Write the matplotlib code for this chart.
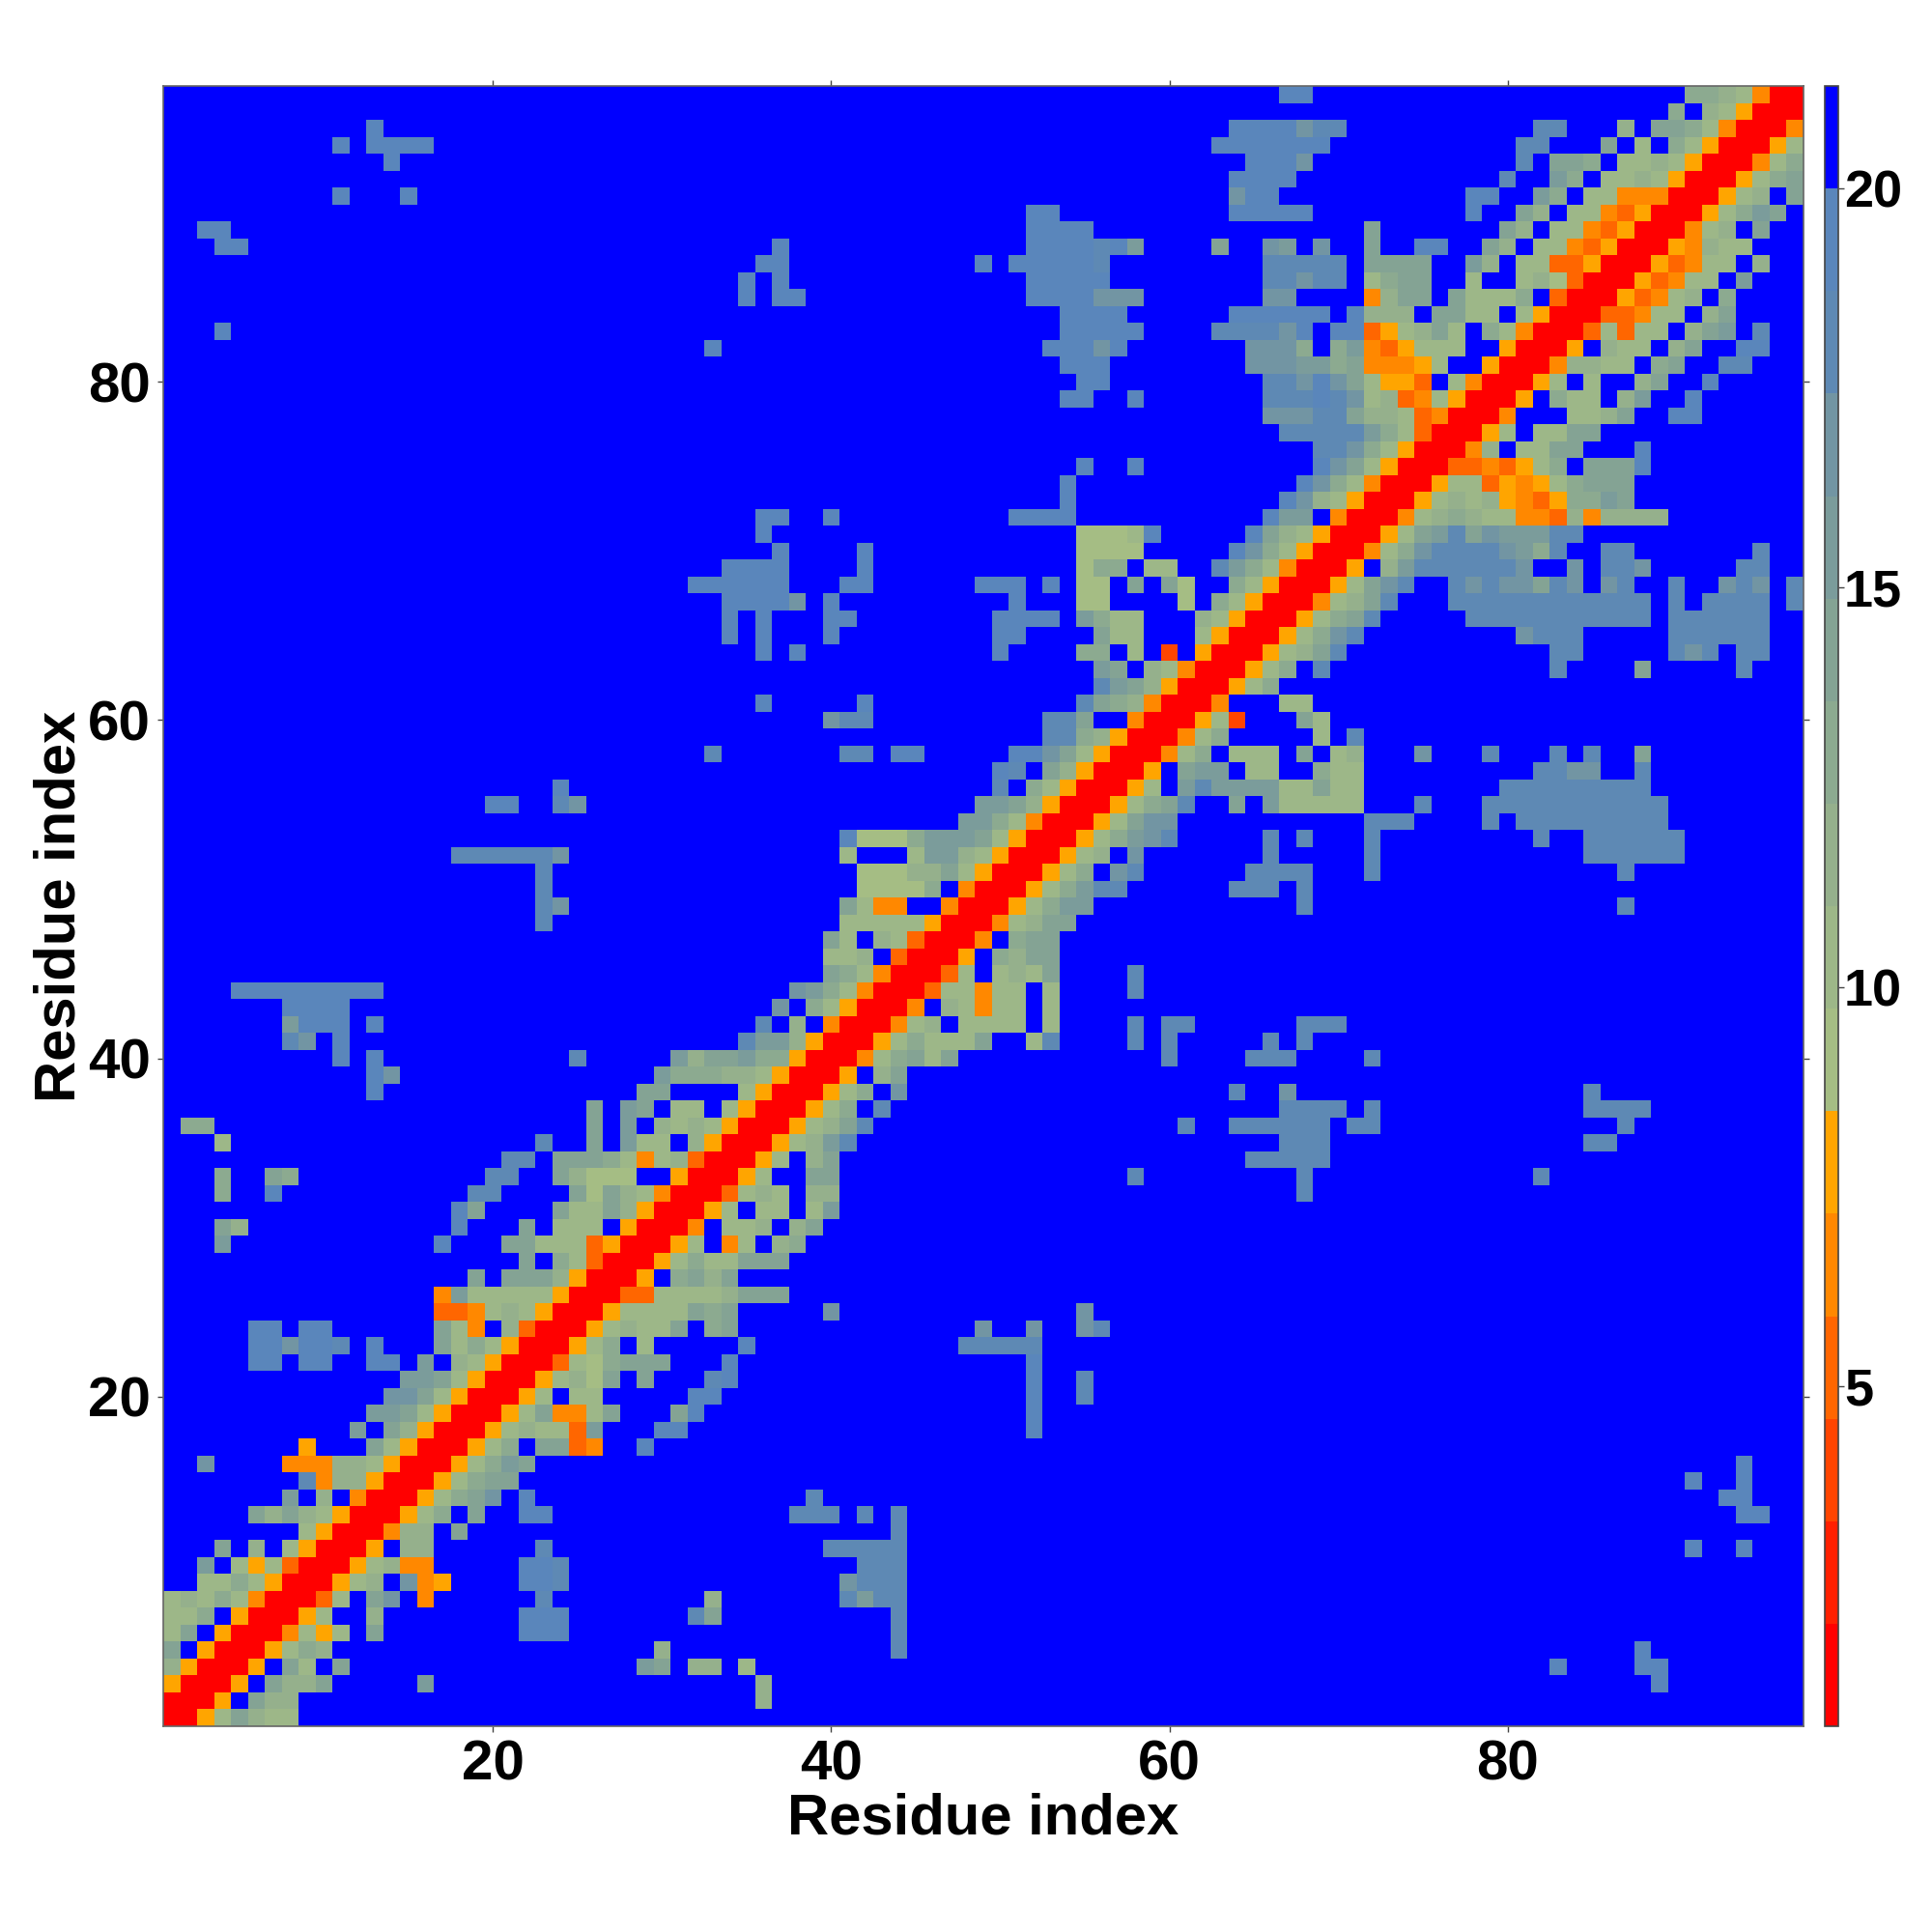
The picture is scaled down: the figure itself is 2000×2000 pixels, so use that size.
import numpy as np
import matplotlib
matplotlib.use("Agg")
import matplotlib.pyplot as plt
from matplotlib.colors import ListedColormap, BoundaryNorm

plt.rcParams['font.family'] = ['Liberation Sans', 'DejaVu Sans']
plt.rcParams['font.weight'] = 'bold'

n_res = 97
dist_min, dist_max = 0.75, 21.28
n_bins = 16

# one colour per distance bin, red = close, blue = far / no contact
bin_colors = ['#ff0000', '#ff2000', '#ff4500', '#ff6600', '#ff8800', '#ffa500',
              '#a5bd84', '#9db788', '#95b08c', '#8caa90', '#84a394', '#7b9c9b',
              '#7295a3', '#5e89b4', '#5a86bb', '#0000ff']
cbar_ticks = [5, 10, 15, 20]
axis_ticks = [20, 40, 60, 80]
axis_label = 'Residue index'

# distance bin, row by row from residue 97 down to residue 1
# "col:bins" = bins (hex digit) starting at residue col, all the rest is bin 15
map_rows = [
 "67:ee 91:9987400",
 "90:9 92:875000",
 "13:e 64:eeeecdd 82:dd 87:8 89:aa9740004",
 "11:e 13:eeee 63:eeeeeee 81:dd 86:a 88:7 90:97500057",
 "14:e 65:eeec 81:d 83:aa9 87:778 90:75000479",
 "64:eeee 80:d 83:b9 86:77875000579a",
 "11:e 15:e 64:cee 78:ee 82:b9 85:77444000578 97:a",
 "52:ee 64:eeeee 78:e 81:a8 84:77435000579ba",
 "3:ee 52:eeee 72:a 80:a8 83:77435000478 95:a",
 "4:ee 37:e 52:eeeedeb 63:a 66:cb 69:c 72:a 75:ee 79:a8 82:7743500054877",
 "36:ee 49:e 51:eeeeed 66:ddddd 72:aaaa 78:b8 81:7733500053477 95:8",
 "35:e 37:e 52:eeeee 66:ddcdd 72:79aa 78:7 81:786300053477 94:b",
 "35:e 37:ee 52:eeeeccc 66:cc 72:48aa 77:a7779 83:300053478 93:9",
 "54:eeee 64:eeeeee 71:e888 76:aa77 81:7500033477 92:8a",
 "4:e 54:eeeee 63:ddddce 70:ee3578a7 79:97400037377 91:8ab 95:d",
 "33:e 53:eeece 65:ccc9 70:9b435777 80:50005 86:877 90:8a 94:ee",
 "54:eee 65:cccbb9a44457 79:500048877 89:9a 93:dd",
 "55:ee 66:ddceca7553 77:7400057 85:7 88:8a 92:e",
 "54:ee 58:e 66:dddedc7834750005 83:977 87:8b 91:e",
 "66:cccdda887340004 84:778a 90:ee",
 "67:dddddb97300057 82:77aa",
 "69:ddc97500048 81:77aa 88:e",
 "55:e 58:e 69:eca750003343579 85:aaae",
 "54:e 68:ec974000577354579aaa",
 "54:e 67:ec87500057878543599ba",
 "36:ee 40:e 51:eeee 66:ebb 70:40004789877443848888",
 "36:e 55:6667e 65:ea87500057abdacbbbdd",
 "37:e 42:e 55:6666 64:ec975000479cddddcb9d 86:dd 95:d",
 "34:eeee 42:e 55:699 59:77 63:db9740005 73:8bddddddc 84:c 86:ddc 94:dd",
 "32:eeeeee 41:ee 49:eee 53:e 55:66 58:a 60:a6 64:97500057acd 77:dcdccadc 86:cd 90:d 93:cdc 97:d",
 "34:eeeec 40:e 51:e 55:66 61:6 63:975000478ad 77:dddddddddddd 90:d 92:dddd 97:d",
 "34:e 36:e 40:ee 50:eeee 55:b977 62:875000579ad 78:ddddddddddd 90:dddddd",
 "34:e 36:e 40:e 50:ee 56:a77 62:75000579cd 81:cddd 90:dddddd",
 "36:e 38:e 50:e 55:99 58:7 60:2 62:5000578ad 83:dd 90:dcd 94:dd",
 "56:ba 59:874000579 69:d 83:d 88:a 94:d",
 "56:dba85000579",
 "36:e 42:e 55:da9840004 67:77",
 "40:cdd 53:dda 58:4000572 68:a7",
 "53:dd985000479 69:7 71:d",
 "33:d 41:dd 44:ee 51:eeca75000479 64:777 68:a 70:78 75:c 79:d 83:d 85:d 88:a",
 "50:ed 53:a850005 61:abb 65:77 69:977 82:ddcc 88:d",
 "24:e 50:d 52:97500057 61:bdbbbb77a77 80:ddddddddd",
 "20:ee 24:dc 49:bba85000579ad 64:a 66:b77777 75:d 79:ddddddddddd",
 "48:bb97400057acc 72:ddd 79:d 81:ddddddddd",
 "41:e6669bbba75000579bcd 66:d 68:d 72:d 82:d 85:dddddd",
 "18:ddddddc 41:7 45:7bb875000578 58:c 66:d 72:d 85:dddddd",
 "23:d 42:66688a75000579 57:cd 65:dddd 72:d 87:d",
 "23:d 42:66669 48:4000579bdd 64:ddd 68:d",
 "23:dc 41:a744 47:4000579bb 68:d 87:d",
 "23:d 41:777775000478aa",
 "40:a7 43:8730004 51:9aa",
 "40:778 44:30005 50:98aa",
 "40:a97400037 50:787a 58:d",
 "5:eeeeeeeee 38:cb974000377477 53:7 58:d",
 "8:eeee 37:c 39:9750004 47:87477 53:7",
 "8:beee 13:e 36:d 38:8 40:4000478 48:7777 53:7 58:d 60:dd 68:ddd",
 "8:dc 11:e 35:dbb85000579777a 52:7d 58:d 60:d 66:d 68:d",
 "11:e 13:e 25:d 31:b8aab995000479a7a 60:d 65:ddd 72:d",
 "13:ec 30:b99988750005 43:8a",
 "13:e 29:aa 35:75000579 44:c 64:d 67:c 85:d",
 "26:a 28:ba 31:77 34:75000579 43:d 67:dddd 72:d 85:dddd",
 "2:99 26:a 28:b 30:87875000578ad 61:d 64:dddddd 71:dd 87:d",
 "4:7 23:d 26:a 28:b77 32:85000578bd 67:ddd 85:dd",
 "21:dd 24:aaa97478300057 39:8a 65:ddddd",
 "4:9 7:a9 20:dd 24:a8666 31:500057 39:aa 58:d 68:d 82:d",
 "4:9 7:e 19:dd 25:a6a8740003787 39:88 68:d",
 "18:ea 24:a77a8500057 36:77 39:7b",
 "4:a8 18:e 22:a 24:777 28:50004 34:778 38:8a",
 "4:b 17:e 21:aa7773500057 34:47 37:89",
 "22:a 24:97300057977aaa",
 "19:a 21:aaa850005 31:9a8a",
 "17:4b7777750003377778aaa",
 "17:334787500057777a9a 40:c 55:c",
 "6:ee 9:ee 17:a74 21:8300057877a 33:9a 49:c 52:c 55:cd",
 "6:eeceed 13:e 17:a7975000579 29:7 35:e 48:ddddd",
 "6:ee 9:ee 13:ee 16:b 18:8750003769aaa 34:e 52:e",
 "15:bba750005786a 29:a 33:de 52:e 55:d",
 "14:cca7500057 25:77 32:ee 52:e 55:d",
 "13:bba7500057a447a 31:ae 52:e",
 "12:b 14:a85000578773b 30:ee 52:e",
 "9:5 13:a75000579 23:aa34 29:e",
 "3:c 8:4448875000579ba 94:e",
 "9:d4885000579aa 91:e 94:e",
 "8:b 10:8 12:4000579ac 22:e 39:d 93:ee",
 "6:a8a875000579 19:a 22:ee 38:ddd 42:d 44:d 94:ee",
 "9:75000488 18:a 44:d",
 "4:a 6:8 8:750005 15:88 23:d 40:ddddd 91:e 94:e",
 "3:b 5:757300057844 22:eed 42:ddd",
 "3:77975000578 15:c45 22:eed 41:cddd",
 "1:78797400037 13:ac 16:4 23:d 33:8 41:dbdd",
 "1:779 5:500057 13:8 22:eee 32:da 44:d",
 "1:7a 4:50004757 13:a 22:eee 44:d",
 "1:a 3:50005798 30:8 44:d 88:e",
 "1:850005 8:a7 11:a 29:ba 32:88 35:7 83:e 88:ee",
 "1:50005 7:a88a 16:b 36:8 89:e",
 "1:0005 6:a88 36:8",
 "1:00 3:57a877",
]

# turn the bins into distances (bin centres)
edges = np.linspace(dist_min, dist_max, n_bins + 1)
centres = 0.5 * (edges[:-1] + edges[1:])
bins = np.full((n_res, n_res), n_bins - 1, dtype=int)
for r, row in enumerate(map_rows):
    for seg in row.split():
        col, vals = seg.split(':')
        for k, ch in enumerate(vals):
            bins[n_res - 1 - r, int(col) - 1 + k] = int(ch, 16)
dist = centres[bins]

cmap = ListedColormap(bin_colors)
norm = BoundaryNorm(edges, cmap.N)

fig = plt.figure(figsize=(10, 10), dpi=200, facecolor='w')
ax = fig.add_axes([169 / 2000, 213 / 2000, 1698 / 2000, 1698 / 2000])
cax = fig.add_axes([1889 / 2000, 213 / 2000, 14 / 2000, 1698 / 2000])

res = np.arange(0.5, n_res + 1)
mesh = ax.pcolormesh(res, res, dist, cmap=cmap, norm=norm, rasterized=True)
ax.set_xlim(0.5, n_res + 0.5)
ax.set_ylim(0.5, n_res + 0.5)
ax.set_xticks(axis_ticks)
ax.set_yticks(axis_ticks)
ax.tick_params(axis='both', which='major', direction='out', length=2.2, width=0.5,
               color='#444444', labelsize=21, pad=2.6,
               top=True, right=True, labeltop=False, labelright=False)
ax.set_xlabel(axis_label, fontsize=21.5, fontweight='bold', labelpad=0.5)
ax.set_ylabel(axis_label, fontsize=21.5, fontweight='bold', labelpad=0.5)
for s in ax.spines.values():
    s.set_linewidth(0.6)
    s.set_color('#666666')

cb = fig.colorbar(mesh, cax=cax, spacing='proportional', ticks=cbar_ticks, drawedges=False)
cb.ax.set_yticklabels([str(t) for t in cbar_ticks])
cb.ax.minorticks_off()
cb.ax.tick_params(direction='out', length=2.2, width=0.5, color='#444444', labelsize=19.5, pad=0)
cb.outline.set_linewidth(0.6)
cb.outline.set_edgecolor('#444444')

fig.savefig("out.png", dpi=200)
